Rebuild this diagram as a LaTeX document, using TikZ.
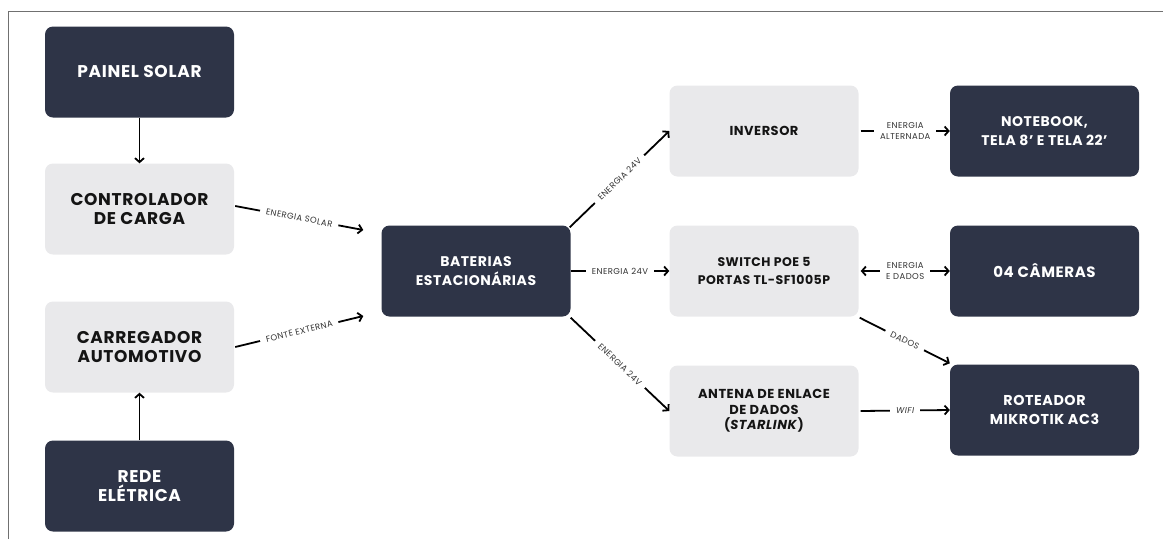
\documentclass[tikz,border=0pt]{standalone}
\usepackage{fontspec}
\setmainfont{Poppins}
\usetikzlibrary{arrows.meta,calc}
\definecolor{darkfill}{HTML}{2E3447}
\definecolor{lightfill}{HTML}{E9E9EB}
\definecolor{framecol}{HTML}{707070}
\definecolor{lblcol}{HTML}{333333}
\newcommand{\nfnt}[2]{\bfseries\fontsize{#1}{#2}\selectfont\addfontfeatures{LetterSpace=4}}
\begin{document}
\begin{tikzpicture}[x=1pt,y=-1pt,
  box/.style={rounded corners=8pt, minimum width=189pt, minimum height=91pt, align=center,
    font=\nfnt{17}{19}, inner sep=0pt},
  fs/.style={font=\nfnt{#1}{18.5}},
  darkbox/.style={box, fill=darkfill, text=white},
  lightbox/.style={box, fill=lightfill, text=black!92},
  conn/.style={-{Straight Barb[length=4pt,width=9pt]}, line width=1.8pt, black},
  labfont/.style={font=\fontsize{8.5}{10.5}\selectfont\addfontfeatures{LetterSpace=5}},
  lab/.style={fill=white, text=lblcol, labfont, inner xsep=6pt, inner ysep=0.5pt, align=center}
]
\useasboundingbox (0,0) rectangle (1163,539);
\draw[framecol, line width=1pt] (8,539) -- (8,11) -- (1163,11);

\node[darkbox]  (painel) at (139.5,72)  {PAINEL SOLAR};
\node[lightbox] (ctrl)   at (139.5,209) {CONTROLADOR\\DE CARGA};
\node[lightbox] (carr)   at (139.5,347) {CARREGADOR\\AUTOMOTIVO};
\node[darkbox]  (rede)   at (139.5,486) {REDE\\ELÉTRICA};
\node[darkbox, fs=14]  (bat)    at (476,271)   {BATERIAS\\ESTACIONÁRIAS};
\node[lightbox, fs=13] (inv)    at (764,131)   {INVERSOR};
\node[lightbox, fs=12.5] (sw)   at (764,271)   {SWITCH POE 5\\PORTAS TL-SF1005P};
\node[lightbox, font=\nfnt{13}{15.5}] (ant) at (764,411) {ANTENA DE ENLACE\\DE DADOS\\(\textit{STARLINK})};
\node[darkbox, fs=14]  (nb)     at (1044.5,131) {NOTEBOOK,\\TELA 8' E TELA 22'};
\node[darkbox, fs=15]  (cam)    at (1044.5,271) {04 CÂMERAS};
\node[darkbox, fs=14.3] (rot)   at (1044.5,410) {ROTEADOR\\MIKROTIK AC3};

\draw[conn] (painel.south) -- (ctrl.north);
\draw[conn] (rede.north) -- (carr.south);
\draw[conn] ($(ctrl.east)+(1,-3)$) -- node[lab,sloped]{ENERGIA SOLAR} ($(bat.west)+(-18,-41)$);
\draw[conn] ($(carr.east)+(1,0)$) -- node[lab,sloped]{FONTE EXTERNA} ($(bat.west)+(-18,45)$);
\draw[conn] ($(bat.north east)+(-1,2)$) -- node[lab,sloped]{ENERGIA 24V} (inv.west);
\draw[conn] (bat.east) -- node[lab]{ENERGIA 24V} (sw.west);
\draw[conn] ($(bat.south east)+(0,1)$) -- node[lab,sloped]{ENERGIA 24V} (ant.west);
\draw[conn] ($(inv.east)+(2,0)$) -- node[lab]{ENERGIA\\ALTERNADA} (nb.west);
\draw[conn, {Straight Barb[length=4pt,width=9pt]}-{Straight Barb[length=4pt,width=9pt]}] ($(sw.east)+(2,0)$) -- node[lab]{ENERGIA\\E DADOS} (cam.west);
\draw[conn] ($(sw.south east)+(1,1)$) -- node[lab,sloped]{DADOS} ($(rot.north west)+(0,-1)$);
\draw[conn] ($(ant.east)+(2,0)$) -- node[lab,font=\itshape\fontsize{8.5}{10.5}\selectfont\addfontfeatures{LetterSpace=5}]{WIFI} (rot.west);
\end{tikzpicture}
\end{document}
